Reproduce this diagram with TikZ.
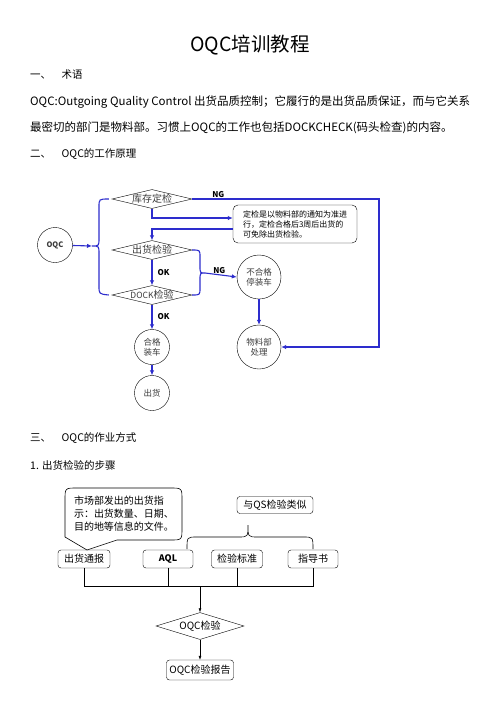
\documentclass[tikz,border=0pt]{standalone}
\usepackage{fontspec}
\setmainfont{Noto Sans CJK SC}
\usetikzlibrary{arrows.meta,shapes.geometric}
\definecolor{lineblue}{RGB}{45,45,205}
\definecolor{txtgrey}{RGB}{60,60,60}
\begin{document}
\begin{tikzpicture}[x=1pt,y=-1pt,
  para/.style={anchor=west,inner sep=0pt,font=\fontsize{11.5}{13}\selectfont},
  hd/.style={anchor=west,inner sep=0pt,font=\fontsize{10.5}{12}\selectfont},
  bl/.style={draw=lineblue,line width=1.1pt},
  blarrow/.style={bl,-{Latex[length=5pt,width=4.5pt]}},
  dia/.style={diamond,draw,aspect=4,inner sep=0pt,minimum width=80pt,minimum height=19pt,font=\fontsize{10}{11}\selectfont,text=txtgrey},
  circ/.style={circle,draw,inner sep=0pt,font=\fontsize{8.5}{10}\selectfont,text=txtgrey,align=center},
  lbl/.style={inner sep=1pt,font=\fontsize{8}{9}\selectfont\bfseries},
  box/.style={draw,rounded corners=3pt,inner sep=0pt,minimum height=18pt,font=\fontsize{10}{12}\selectfont},
  thin/.style={draw,line width=0.6pt},
  karrow/.style={thin,-{Latex[length=4pt,width=3pt]}}]
\path[fill=white,use as bounding box] (0,0) rectangle (496,702);

% text
\node[font=\fontsize{19.5}{22}\selectfont] (title) at (250,45) {OQC培训教程};
\node[hd] (h1) at (30,75) {一、\quad 术语};
\node[para] (p1) at (30,102) {OQC:Outgoing Quality Control 出货品质控制；它履行的是出货品质保证，而与它关系};
\node[para] (p2) at (30,128) {最密切的部门是物料部。习惯上OQC的工作也包括DOCKCHECK(码头检查)的内容。};
\node[hd] (h2) at (30,154) {二、\quad OQC的工作原理};
\node[hd] (h3) at (30,438) {三、\quad OQC的作业方式};
\node[hd] (h4) at (30,465) {1. 出货检验的步骤};

% diagram 1
\node[circ,minimum size=35pt,font=\fontsize{7.5}{9}\selectfont\bfseries] (oqc) at (55,245) {OQC};
\node[dia] (kc) at (152,199) {\makebox[0pt]{库存定检}};
\node[dia] (chj) at (152,250) {\makebox[0pt]{出货检验}};
\node[dia] (dock) at (152,295) {\makebox[0pt]{{\fontsize{8.5}{10}\selectfont DOCK}检验}};
\node[draw,rounded corners=5pt,minimum width=124pt,minimum height=38pt,inner sep=3pt,align=left,font=\fontsize{8}{10}\selectfont] (note) at (295,224) {定检是以物料部的通知为准进\\行，定检合格后3周后出货的\\可免除出货检验。};
\node[circ,minimum size=44pt] (bhg) at (259,277) {不合格\\停装车};
\node[circ,minimum size=44pt] (wlb) at (259,347) {物料部\\处理};
\node[circ,minimum size=35pt] (hg) at (152,347) {合格\\装车};
\node[circ,minimum size=35pt] (ch) at (152,393) {出货};
\coordinate (lbt) at (92,246);
\coordinate (rbt) at (205,273);

\draw[bl] ([xshift=-3pt]kc.west) .. controls (99,199) .. (99,207) -- (99,238) .. controls (99,246) .. (lbt)
  .. controls (99,246) .. (99,254) -- (99,286) .. controls (99,294) .. ([xshift=-3pt]dock.west);
\draw[blarrow] (oqc) -- (lbt);
\draw[bl] (chj.east) .. controls (200,250) .. (200,257) -- (200,266) .. controls (200,273) .. (rbt)
  .. controls (200,273) .. (200,280) -- (200,288) .. controls (200,295) .. (dock.east);
\draw[blarrow] (rbt) -- node[lbl,above,pos=0.45] {NG} (bhg.west);
\draw[blarrow] (kc.east) -- node[lbl,above,pos=0.14] {NG} (379,199) -- (379,347) -- (wlb.east);
\draw[blarrow] (kc.south) |- ([yshift=6pt]note.west);
\draw[blarrow] ([yshift=-5pt]note.west) -| (chj.north);
\draw[blarrow] (chj.south) -- node[lbl,right=4pt] {OK} (dock.north);
\draw[blarrow] (dock.south) -- node[lbl,right=4pt] {OK} (hg.north);
\draw[blarrow] (bhg.south) -- (wlb.north);
\draw[blarrow] (hg.south) -- (ch.north);

% diagram 2
\node[inner sep=0pt,align=left,font=\fontsize{10}{13}\selectfont] (cal) at (124,514) {市场部发出的出货指\\示：出货数量、日期、\\目的地等信息的文件。};
\draw[thin] (87,550) -- (65,537) -- (65,500) .. controls (65,488) .. (77,488) -- (170,488) .. controls (182,488) .. (182,500) -- (182,528) .. controls (182,540) .. (170,540) -- (117,540) -- cycle;
\node[box,minimum width=52pt] (chtb) at (84,559) {出货通报};
\node[box,minimum width=50pt,font=\fontsize{9}{11}\selectfont\bfseries] (aql) at (168,559) {AQL};
\node[box,minimum width=51pt] (jybz) at (237,559) {检验标准};
\node[box,minimum width=50pt] (zds) at (313,559) {指导书};
\node[box,minimum width=76pt,minimum height=17pt] (qs) at (275,505) {与QS检验类似};
\draw[thin] (187,549) .. controls (187,537) .. (197,537) -- (238,537) .. controls (248,537) .. (248,525)
  .. controls (248,537) .. (258,537) -- (303,537) .. controls (313,537) .. (313,549);
\coordinate (bus) at (200,586);
\draw[thin] (chtb.south) -- (84,586) -- (313,586) -- (zds.south);
\draw[thin] (aql.south) -- (168,586);
\draw[thin] (jybz.south) -- (237,586);
\node[diamond,draw,aspect=3.3,inner sep=0pt,minimum width=88pt,minimum height=27pt,font=\fontsize{10}{12}\selectfont] (oqcj) at (200,626) {\makebox[0pt]{OQC检验}};
\node[box,minimum width=67pt,minimum height=20pt] (rep) at (200,670) {OQC检验报告};
\draw[karrow] (bus) -- (oqcj.north);
\draw[karrow] (oqcj.south) -- (rep.north);
\end{tikzpicture}
\end{document}
